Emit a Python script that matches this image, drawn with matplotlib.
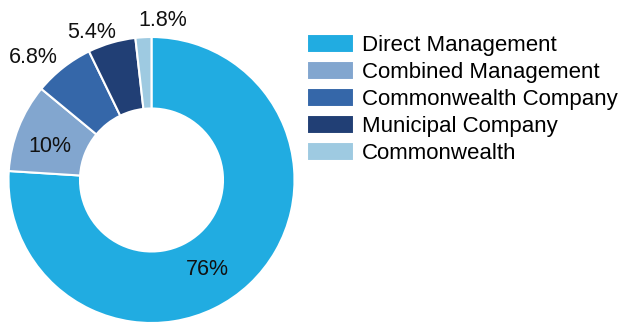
import numpy as np
import matplotlib
matplotlib.use("Agg")
from matplotlib import pyplot as plt

categories = ["Direct Management", "Combined Management", "Commonwealth Company",
              "Municipal Company", "Commonwealth"]
shares = [76, 10, 6.8, 5.4, 1.8]
pct_labels = ["76%", "10%", "6.8%", "5.4%", "1.8%"]
colors = ["#21ace1", "#82a6cf", "#3567a9", "#213f75", "#9ecae1"]

# label placement: radius (in pie radii) and angle (deg) for each slice label
label_r = [0.74, 0.75, 1.19, 1.11, 1.12]
label_ang = [-58, 162, 134, 112, 86]

plt.rcParams["font.family"] = ["Liberation Sans", "DejaVu Sans"]

W, H = 619, 322
fig = plt.figure(figsize=(W / 100, H / 100), dpi=100)
cx, cy, R = 151.5, 180, 143
ax = fig.add_axes([(cx - R) / W, (H - cy - R) / H, 2 * R / W, 2 * R / H])
ax.axis("off")

wedges, _ = ax.pie(shares, colors=colors, startangle=90, counterclock=False,
                   radius=1, wedgeprops=dict(width=0.5, edgecolor="white", linewidth=1.5))
ax.set_xlim(-1, 1)
ax.set_ylim(-1, 1)

for txt, r, a in zip(pct_labels, label_r, label_ang):
    ax.text(r * np.cos(np.radians(a)), r * np.sin(np.radians(a)), txt,
            ha="center", va="center", fontsize=15.5, color="#111111")

fig.legend(wedges, categories, loc="upper left", bbox_to_anchor=(307 / W, 1 - 34 / H),
           frameon=False, fontsize=16, handlelength=2.1, handleheight=0.95,
           labelspacing=0.21, handletextpad=0.36, borderaxespad=0, borderpad=0)

fig.savefig("out.png", dpi=100)
